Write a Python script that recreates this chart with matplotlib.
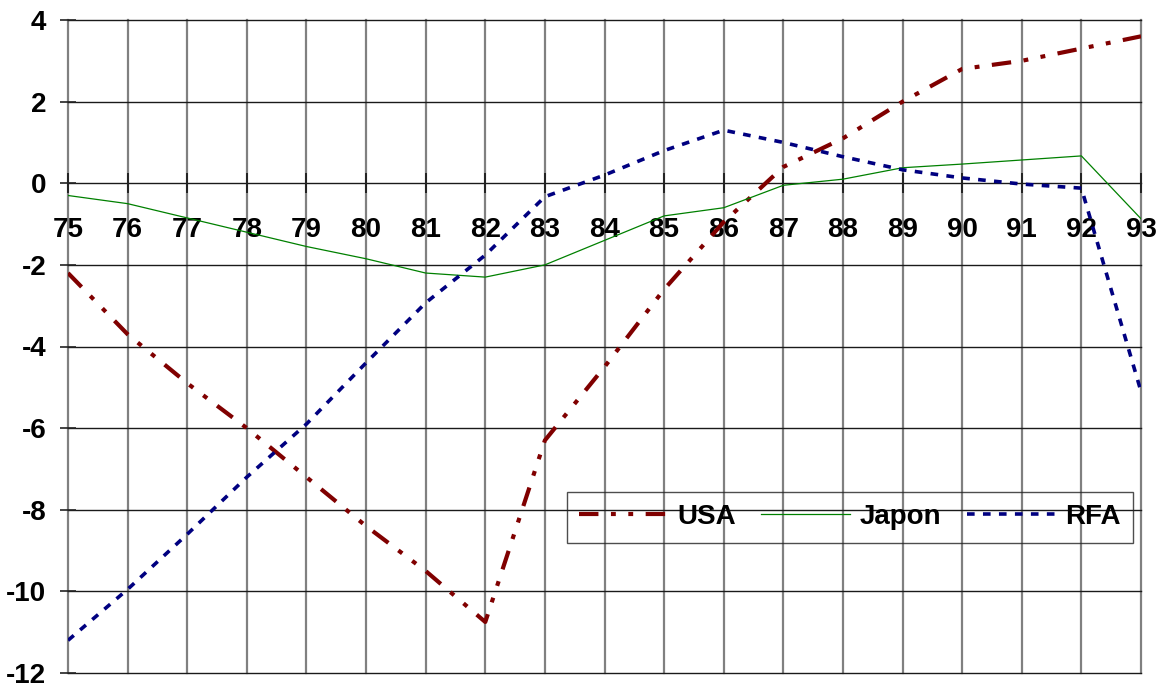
import numpy as np
import matplotlib
matplotlib.use("Agg")
import matplotlib.pyplot as plt

# years (two-digit) and the three series
years = np.arange(75, 94)
usa = [-2.2, -3.7, -4.9, -6.0, -7.2, -8.4, -9.5, -10.75, -6.3, -4.5, -2.6, -0.95,
       0.4, 1.1, 2.0, 2.8, 3.0, 3.3, 3.6]
japon = [-0.3, -0.5, -0.85, -1.2, -1.55, -1.85, -2.2, -2.3, -2.0, -1.4, -0.8, -0.6,
         -0.05, 0.1, 0.38, 0.47, 0.57, 0.67, -0.87]
rfa = [-11.2, -9.95, -8.6, -7.2, -5.9, -4.4, -2.93, -1.76, -0.33, 0.2, 0.8, 1.3,
       1.0, 0.65, 0.33, 0.13, -0.02, -0.12, -5.1]
y_ticks = [-12, -10, -8, -6, -4, -2, 0, 2, 4]

plt.rcParams['font.family'] = ['Liberation Sans', 'DejaVu Sans']
plt.rcParams['font.weight'] = 'bold'
plt.rcParams['axes.unicode_minus'] = False
plt.rcParams['lines.scale_dashes'] = False

fig = plt.figure(figsize=(11.64, 6.86), dpi=100)
ax = fig.add_axes([68 / 1164, 1 - 673 / 686, (1141 - 68) / 1164, (673 - 20) / 686])

ax.plot(years, usa, color='#800000', lw=3, linestyle=(0, (14, 9, 3.5, 9, 3.5, 9)),
        dash_capstyle='butt', label='USA', zorder=3)
ax.plot(years, japon, color='#008000', lw=0.9, label='Japon', zorder=3)
ax.plot(years, rfa, color='#000080', lw=2.6, linestyle=(0, (5.5, 6)),
        dash_capstyle='butt', label='RFA', zorder=3)

ax.set_xlim(75, 93)
ax.set_ylim(-12, 4)
ax.set_xticks(years)
ax.set_xticklabels([str(y) for y in years])
ax.set_yticks(y_ticks)

# grid: grey verticals, black horizontals
for x in years:
    ax.axvline(x, color='#808080', lw=1.6, zorder=1, clip_on=False)
for y in y_ticks:
    ax.axhline(y, color='#1a1a1a', lw=1.0, zorder=1, clip_on=False)

# x axis sits on the zero line, no visible frame
for side in ['top', 'right', 'left']:
    ax.spines[side].set_visible(False)
ax.spines['bottom'].set_position(('data', 0))
ax.spines['bottom'].set_visible(False)

ax.tick_params(axis='x', direction='inout', length=14, width=1.4, color='#222222',
               pad=17, labelsize=20)
ax.tick_params(axis='y', direction='inout', length=11, width=1.2, color='#222222',
               pad=10, labelsize=20)

leg = ax.legend(loc='center', bbox_to_anchor=(850 / 1164, 1 - 517 / 686),
                bbox_transform=fig.transFigure, ncol=3, fontsize=20,
                handlelength=3.2, handletextpad=0.35, columnspacing=0.9,
                borderpad=0.45, fancybox=False, frameon=True)
leg.get_frame().set_facecolor('none')
leg.get_frame().set_edgecolor('#222222')
leg.get_frame().set_linewidth(1.0)

plt.savefig('out.png', dpi=100)
